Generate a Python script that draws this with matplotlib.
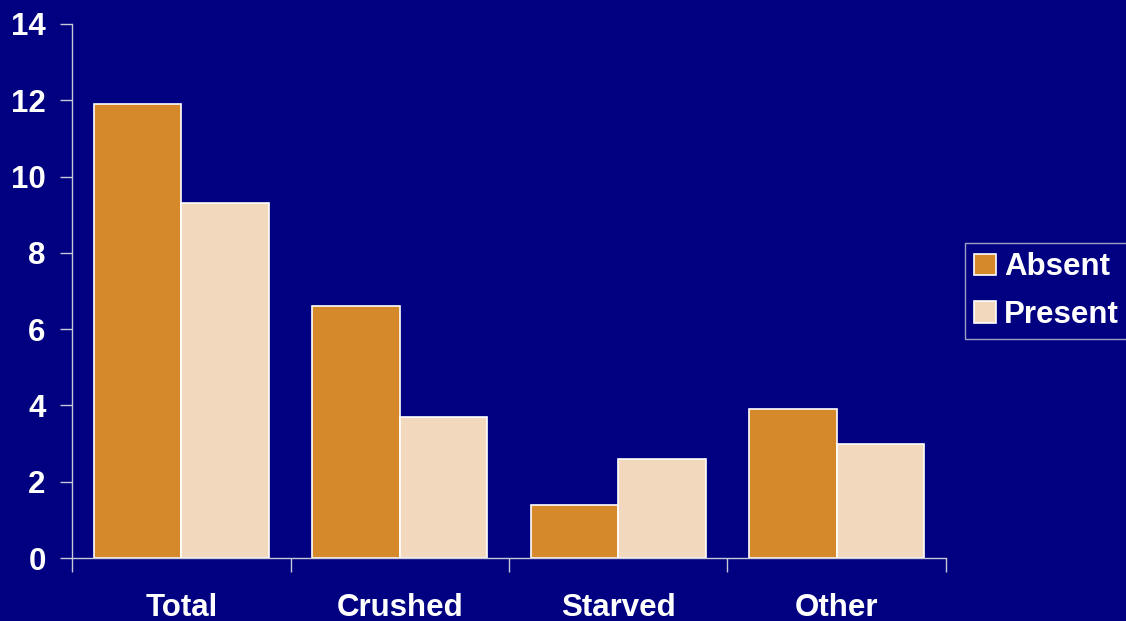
import matplotlib.pyplot as plt
import numpy as np

plt.rcParams['font.family'] = ['Liberation Sans', 'DejaVu Sans']
plt.rcParams['font.weight'] = 'bold'

CATEGORIES = ['Total', 'Crushed', 'Starved', 'Other']
ABSENT = [11.9, 6.6, 1.4, 3.9]
PRESENT = [9.3, 3.7, 2.6, 3.0]
SERIES = ['Absent', 'Present']

NAVY = '#000080'
ORANGE = '#D6892B'
PEACH = '#F2D8BC'
AXIS = '#C8C8D8'


def main():
    fig = plt.figure(figsize=(11.26, 6.21), dpi=100, facecolor=NAVY)
    ax = fig.add_axes([0.064, 0.1014, 0.776, 0.86])
    ax.set_facecolor(NAVY)

    x = np.arange(len(CATEGORIES))
    w = 0.4
    ax.bar(x - w / 2, ABSENT, w, color=ORANGE, edgecolor='white', linewidth=1.2, label=SERIES[0])
    ax.bar(x + w / 2, PRESENT, w, color=PEACH, edgecolor='white', linewidth=1.2, label=SERIES[1])

    ax.set_xlim(-0.5, len(CATEGORIES) - 0.5)
    ax.set_ylim(0, 14)
    ax.set_yticks(range(0, 15, 2))

    # category labels centred, tick marks on the boundaries
    ax.set_xticks(np.arange(-0.5, len(CATEGORIES), 1.0))
    ax.set_xticklabels([])
    ax.set_xticks(x, minor=True)
    ax.set_xticklabels(CATEGORIES, minor=True)
    ax.tick_params(axis='x', which='minor', length=0, pad=25, labelsize=22.5, labelcolor='white')
    ax.tick_params(axis='x', which='major', length=10, width=1, color=AXIS, direction='out')
    ax.tick_params(axis='y', length=9, width=1, color=AXIS, pad=10, labelsize=22.5, labelcolor='white')

    for side in ('top', 'right'):
        ax.spines[side].set_visible(False)
    for side in ('left', 'bottom'):
        ax.spines[side].set_color(AXIS)
        ax.spines[side].set_linewidth(1)

    leg = ax.legend(loc='center left', bbox_to_anchor=(1.022, 0.5), frameon=True, fancybox=False,
                    facecolor=NAVY, edgecolor=AXIS, fontsize=22.5, labelcolor='white',
                    handlelength=0.7, handleheight=0.7, handletextpad=0.25,
                    borderpad=0.3, labelspacing=0.55, borderaxespad=0)
    leg.get_frame().set_linewidth(1)

    fig.savefig('out.png', dpi=100, facecolor=NAVY)


if __name__ == '__main__': main()
